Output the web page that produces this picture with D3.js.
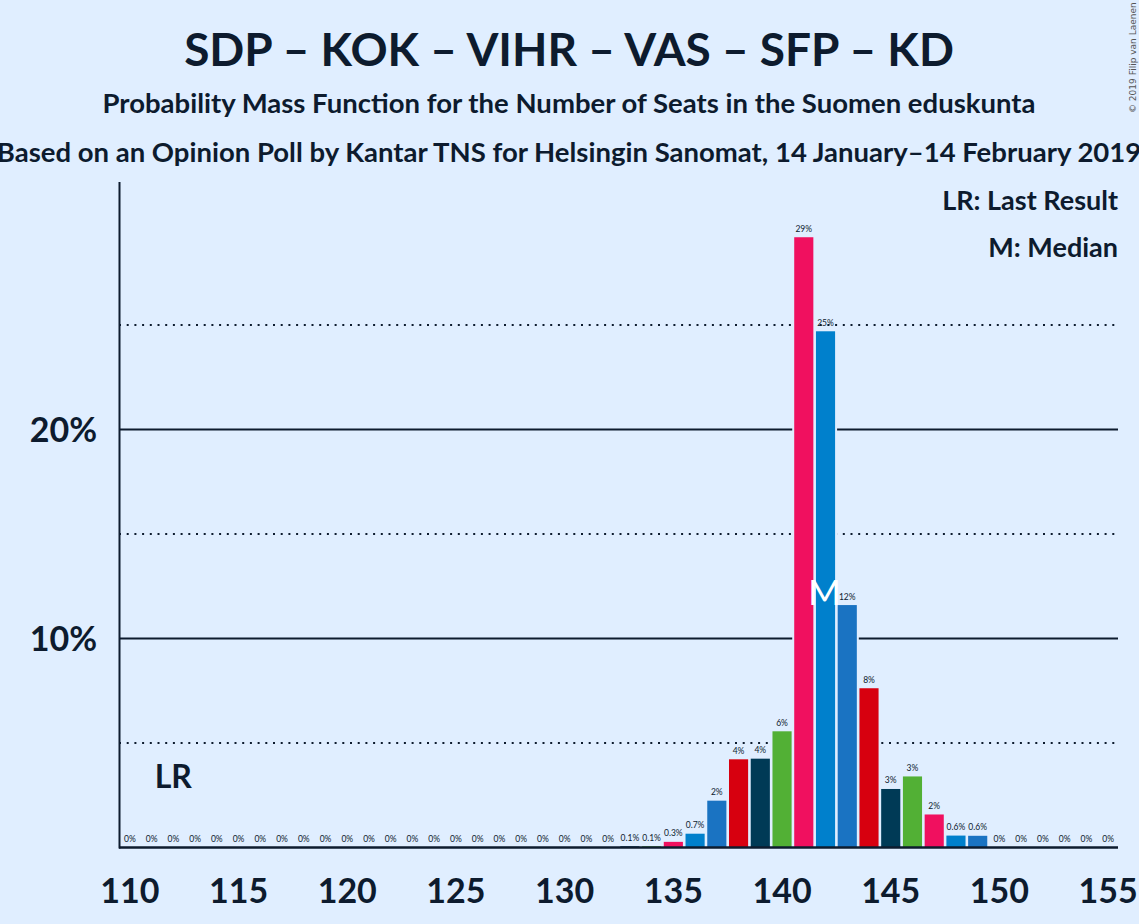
<!DOCTYPE html>
<html>
<head>
<meta charset="utf-8">
<script src="https://cdn.jsdelivr.net/npm/d3@7"></script>
<style>
  body { margin: 0; background: #e0eeff; }
  svg { display: block; }
  text { font-family: Lato, "Open Sans", sans-serif; fill: #0d1b2e; }
</style>
</head>
<body>
<svg id="chart" width="1139" height="924"></svg>
<script>
// Seats and probabilities
var seats = d3.range(110, 156);
var probs = [
  0, 0, 0, 0, 0, 0, 0, 0, 0, 0,          // 110-119
  0, 0, 0, 0, 0, 0, 0, 0, 0, 0,          // 120-129
  0, 0, 0, 0.0006, 0.0006, 0.0027, 0.0066, 0.0224, 0.0422, 0.0425,  // 130-139
  0.0556, 0.292, 0.247, 0.116, 0.0762, 0.028, 0.034, 0.0158, 0.0057, 0.0056, // 140-149
  0, 0, 0, 0, 0, 0                        // 150-155
];
var partyColors = ["#f0105f", "#0080cc", "#1a73c2", "#d7000f", "#003a56", "#52b035"];
var xTicks = [110, 115, 120, 125, 130, 135, 140, 145, 150, 155];
var yTicks = [0.05, 0.10, 0.15, 0.20, 0.25];
var yLabels = [0.10, 0.20];
var lastResult = 112;
var median = 142;

var bg = "#e0eeff";
var ink = "#0d1b2e";
var svg = d3.select("#chart");

svg.append("rect").attr("width", 1139).attr("height", 924).attr("fill", bg);

// titles
svg.append("text").attr("x", 569).attr("y", 66).attr("text-anchor", "middle")
  .style("font-size", "46px").style("font-weight", "bold")
  .text("SDP – KOK – VIHR – VAS – SFP – KD");
svg.append("text").attr("x", 569).attr("y", 113).attr("text-anchor", "middle")
  .style("font-size", "27.5px").style("font-weight", "bold")
  .text("Probability Mass Function for the Number of Seats in the Suomen eduskunta");
svg.append("text").attr("x", 569).attr("y", 162).attr("text-anchor", "middle")
  .style("font-size", "27.5px").style("font-weight", "bold")
  .text("Based on an Opinion Poll by Kantar TNS for Helsingin Sanomat, 14 January–14 February 2019");

// copyright
svg.append("text").attr("transform", "translate(1136,113) rotate(-90)")
  .style("font-size", "9px").style("font-family", "'DejaVu Sans', sans-serif")
  .style("fill", "#555")
  .text("© 2019 Filip van Laenen");

var x = d3.scaleBand().domain(seats).range([119, 1119]).paddingInner(0.12).paddingOuter(0.06);
var y = d3.scaleLinear().domain([0, 0.318]).range([847.5, 182.9]);

// gridlines: solid at 10 % steps, dotted in between
svg.append("g").selectAll("line").data(yTicks).join("line")
  .attr("x1", 119).attr("x2", 1118)
  .attr("y1", d => y(d)).attr("y2", d => y(d))
  .attr("stroke", ink)
  .attr("stroke-width", 2)
  .attr("stroke-dasharray", d => (Math.round(d * 100) % 10 === 0) ? null : "2,5.7");

// y labels
svg.append("g").selectAll("text").data(yLabels).join("text")
  .attr("x", 97).attr("y", d => y(d) + 12).attr("text-anchor", "end")
  .style("font-size", "34px").style("font-weight", "bold")
  .text(d => d3.format(".0%")(d));

var bars = seats.map((s, i) => ({ seat: s, p: probs[i] }));

// background halo so gridlines break around bars
svg.append("g").selectAll("rect").data(bars.filter(d => d.p > 0)).join("rect")
  .attr("x", d => x(d.seat) - 2)
  .attr("width", x.bandwidth() + 4)
  .attr("y", d => y(d.p) - 2)
  .attr("height", d => y(0) - y(d.p) + 2)
  .attr("fill", bg);

svg.append("g").selectAll("rect").data(bars).join("rect")
  .attr("x", d => x(d.seat))
  .attr("width", x.bandwidth())
  .attr("y", d => y(d.p))
  .attr("height", d => y(0) - y(d.p))
  .attr("fill", d => partyColors[((d.seat - 135) % 6 + 6) % 6]);

function pct(p) {
  if (p === 0) return "0%";
  if (p < 0.01) return (Math.round(p * 1000) / 10).toFixed(1) + "%";
  return Math.round(p * 100) + "%";
}

svg.append("g").selectAll("text").data(bars).join("text")
  .attr("x", d => x(d.seat) + x.bandwidth() / 2)
  .attr("y", d => y(d.p) - 5.5)
  .attr("text-anchor", "middle")
  .style("font-size", "8.5px")
  .text(d => pct(d.p));

// axes
svg.append("line").attr("x1", 119.5).attr("x2", 119.5).attr("y1", 182).attr("y2", 848.5)
  .attr("stroke", ink).attr("stroke-width", 2);
svg.append("line").attr("x1", 119).attr("x2", 1118).attr("y1", 847.5).attr("y2", 847.5)
  .attr("stroke", ink).attr("stroke-width", 2.5);

svg.append("g").selectAll("text").data(xTicks).join("text")
  .attr("x", d => x(d) + x.bandwidth() / 2)
  .attr("y", 903)
  .attr("text-anchor", "middle")
  .style("font-size", "34px").style("font-weight", "bold")
  .text(d => d);

// last result and median markers
svg.append("text")
  .attr("x", x(lastResult) + x.bandwidth() / 2)
  .attr("y", 788)
  .attr("text-anchor", "middle")
  .style("font-size", "32px").style("font-weight", "bold")
  .text("LR");

svg.append("text")
  .attr("x", x(median) + x.bandwidth() / 2 - 1)
  .attr("y", 605)
  .attr("text-anchor", "middle")
  .style("font-size", "35px")
  .style("fill", "#ffffff")
  .text("M");

// legend
svg.append("text").attr("x", 1118).attr("y", 210).attr("text-anchor", "end")
  .style("font-size", "27px").style("font-weight", "bold")
  .text("LR: Last Result");
svg.append("text").attr("x", 1118).attr("y", 257).attr("text-anchor", "end")
  .style("font-size", "27px").style("font-weight", "bold")
  .text("M: Median");
</script>
</body>
</html>
